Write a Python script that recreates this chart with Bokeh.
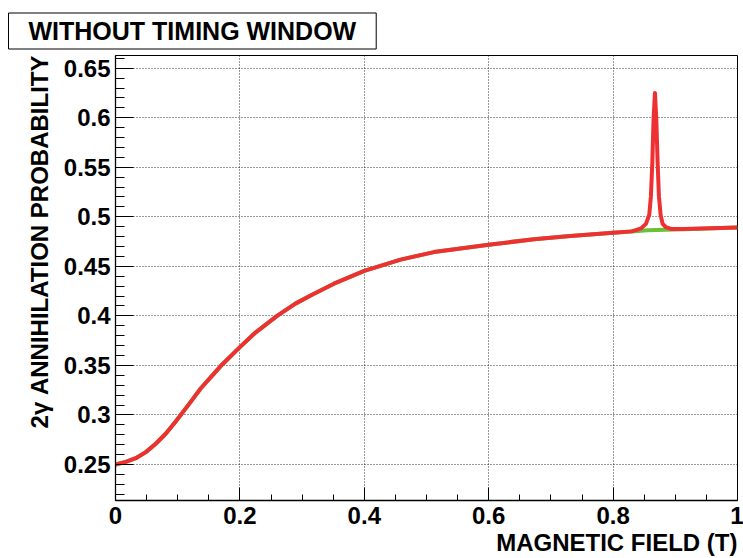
from bokeh.plotting import figure
from bokeh.models import Range1d, FixedTicker, Title, NumeralTickFormatter
from bokeh.embed import file_html
from bokeh.resources import INLINE

# ---- data ----
field_base = [0.0, 0.0166, 0.0326, 0.0487, 0.0647, 0.0807, 0.0968, 0.1048, 0.1209, 0.1369,
              0.1529, 0.1716, 0.2, 0.225, 0.2598, 0.2892, 0.316, 0.3512, 0.4, 0.4584,
              0.512, 0.6, 0.6729, 0.7265, 0.8, 0.83, 0.855, 0.914, 1.0]
prob_base = [0.25, 0.2527, 0.2564, 0.2625, 0.2710, 0.2811, 0.2935, 0.30, 0.3132, 0.3267,
             0.3380, 0.351, 0.3685, 0.3832, 0.40, 0.4124, 0.4214, 0.4325, 0.4455, 0.4568,
             0.4644, 0.4719, 0.4773, 0.4803, 0.4840, 0.4852, 0.4864, 0.4874, 0.4891]

field_res = [0.0, 0.0166, 0.0326, 0.0487, 0.0647, 0.0807, 0.0968, 0.1048, 0.1209, 0.1369,
             0.1529, 0.1716, 0.2, 0.225, 0.2598, 0.2892, 0.316, 0.3512, 0.4, 0.4584,
             0.512, 0.6, 0.6729, 0.7265, 0.8, 0.83, 0.845, 0.8528, 0.8581, 0.8608,
             0.863, 0.865, 0.8673, 0.8695, 0.8716, 0.8737, 0.8764, 0.8796, 0.885, 0.893,
             0.914, 1.0]
prob_res = [0.25, 0.2527, 0.2564, 0.2625, 0.2710, 0.2811, 0.2935, 0.30, 0.3132, 0.3267,
            0.3380, 0.351, 0.3685, 0.3832, 0.40, 0.4124, 0.4214, 0.4325, 0.4455, 0.4568,
            0.4644, 0.4719, 0.4773, 0.4803, 0.4840, 0.4853, 0.4883, 0.4929, 0.502, 0.5206,
            0.554, 0.598, 0.625, 0.598, 0.554, 0.5206, 0.502, 0.4929, 0.4895, 0.4878,
            0.4876, 0.4891]

x_ticks = [0.0, 0.2, 0.4, 0.6, 0.8, 1.0]
x_tick_labels = ["0", "0.2", "0.4", "0.6", "0.8", "1"]
x_minor = [0.05, 0.1, 0.15, 0.25, 0.3, 0.35, 0.45, 0.5, 0.55, 0.65, 0.7, 0.75, 0.85, 0.9, 0.95]
y_ticks = [0.25, 0.3, 0.35, 0.4, 0.45, 0.5, 0.55, 0.6, 0.65]
y_tick_labels = ["0.25", "0.3", "0.35", "0.4", "0.45", "0.5", "0.55", "0.6", "0.65"]
y_minor = [round(0.22 + 0.01 * i, 2) for i in range(45)]

title_text = "WITHOUT TIMING WINDOW"
x_title = "MAGNETIC FIELD (T)"
y_title = "2\u03b3 ANNIHILATION PROBABILITY"

FONT = "Liberation Sans"

p = figure(width=743, height=558, output_backend="svg", toolbar_location=None,
           x_range=Range1d(0, 1), y_range=Range1d(0.2137, 0.6628),
           min_border_left=115, min_border_right=6, min_border_top=55, min_border_bottom=58)

# boxed heading in the top-left corner
tprops = Title.properties() if hasattr(Title, "properties") else set()
pad_h, pad_v = 20, 4
p.title.text = title_text
p.title.align = "left"
p.title.text_font = FONT
p.title.text_font_size = "25px"
p.title.text_font_style = "bold"
p.title.text_color = "black"
p.title.border_line_color = "black"
p.title.border_line_width = 1
p.title.background_fill_color = "white"
p.title.standoff = 13
p.title.offset = 8 - 115
if "padding" in tprops:
    p.title.padding = dict(left=pad_h, right=pad_h, top=pad_v, bottom=pad_v)

p.background_fill_color = "white"
p.border_fill_color = "white"
p.outline_line_color = "black"
p.outline_line_width = 1

p.xaxis.ticker = FixedTicker(ticks=x_ticks, minor_ticks=x_minor)
p.yaxis.ticker = FixedTicker(ticks=y_ticks, minor_ticks=y_minor)
p.xaxis.formatter = NumeralTickFormatter(format="0.[00]")
p.yaxis.formatter = NumeralTickFormatter(format="0.[00]")
p.xaxis.major_label_overrides = dict(zip(x_ticks, x_tick_labels))
p.yaxis.major_label_overrides = dict(zip(y_ticks, y_tick_labels))

for ax in (p.xaxis[0], p.yaxis[0]):
    ax.axis_line_color = "black"
    ax.axis_line_width = 1.3
    ax.major_tick_line_color = "black"
    ax.minor_tick_line_color = "black"
    ax.major_label_text_font = FONT
    ax.major_label_text_font_style = "bold"
    ax.major_label_text_font_size = "24px"
    ax.major_label_text_color = "black"
    ax.minor_tick_out = 0
    ax.major_tick_out = 0

p.xaxis.major_tick_in = 13
p.xaxis.minor_tick_in = 6
p.yaxis.major_tick_in = 18
p.yaxis.minor_tick_in = 9
p.xaxis.major_label_standoff = 6
p.yaxis.major_label_standoff = 5

for g in (p.xgrid[0], p.ygrid[0]):
    g.grid_line_color = "black"
    g.grid_line_dash = "1 2"
    g.grid_line_width = 1
    g.grid_line_alpha = 0.8

p.line(field_base, prob_base, line_color="#6cbf3a", line_width=4, line_join="round")
p.line(field_res, prob_res, line_color="#ee3033", line_width=4, line_join="round")

p.add_layout(Title(text=x_title, align="right", text_font=FONT, text_font_size="24px",
                   text_font_style="bold", text_color="black", standoff=0, offset=0), "below")
p.add_layout(Title(text=y_title, align="right", text_font=FONT, text_font_size="24px",
                   text_font_style="bold", text_color="black", standoff=15, offset=0), "left")

open("out.html", "w").write(file_html(p, INLINE))
